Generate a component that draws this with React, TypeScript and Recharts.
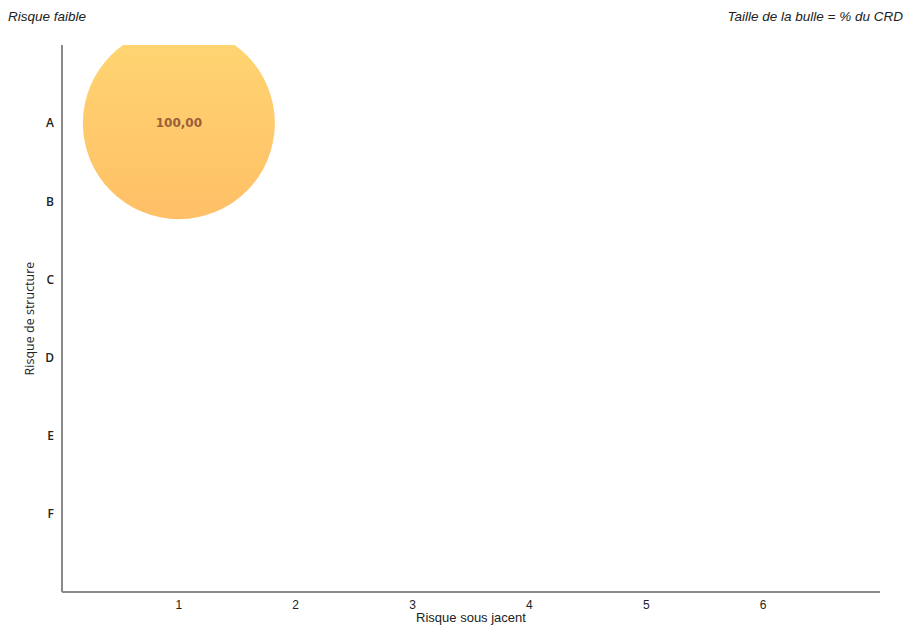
import React from "react";
import { ScatterChart, Scatter, XAxis, YAxis, ZAxis, LabelList } from "recharts";

const xTicks = [1, 2, 3, 4, 5, 6];
const yTicks = [1, 2, 3, 4, 5, 6];
const yTickLabels = ["A", "B", "C", "D", "E", "F"];
const bubbleX = [1];
const bubbleY = [1];
const bubbleShare = [100];

const data = bubbleX.map((x, i) => ({
  x,
  y: bubbleY[i],
  z: bubbleShare[i],
  label: bubbleShare[i].toFixed(2).replace(".", ","),
}));

const BubbleShape = (props: any) => {
  const { cx, cy, size } = props;
  const r = size ? Math.sqrt(size / Math.PI) : (props.width || 0) / 2;
  return (
    <g>
      <defs>
        <linearGradient id="bubbleGrad" x1="0" y1="0" x2="0" y2="1">
          <stop offset="0%" stopColor="#FFD672" />
          <stop offset="100%" stopColor="#FFBF66" />
        </linearGradient>
      </defs>
      <circle cx={cx} cy={cy} r={r} fill="url(#bubbleGrad)" />
    </g>
  );
};

export default function App() {
  return (
    <div style={{ position: "absolute", left: 0, top: 0, width: 905, height: 626, background: "#fff" }}>
      <div
        style={{
          position: "absolute",
          left: 8,
          top: 9,
          fontFamily: "Liberation Sans, Arial, sans-serif",
          fontStyle: "italic",
          fontSize: 13.5,
          color: "#222",
        }}
      >
        Risque faible
      </div>
      <div
        style={{
          position: "absolute",
          right: 2,
          top: 9,
          fontFamily: "Liberation Sans, Arial, sans-serif",
          fontStyle: "italic",
          fontSize: 13.5,
          color: "#222",
        }}
      >
        Taille de la bulle = % du CRD
      </div>
      <ScatterChart
        width={905}
        height={626}
        margin={{ top: 45, right: 25, bottom: 4, left: 32 }}
      >
        <XAxis
          type="number"
          dataKey="x"
          domain={[0, 7]}
          ticks={xTicks}
          allowDataOverflow
          tickLine={false}
          axisLine={{ stroke: "#8a8a8a", strokeWidth: 2 }}
          tick={{ fill: "#222", fontSize: 12, fontFamily: "Liberation Sans Narrow, Liberation Sans, sans-serif" }}
          height={30}
          label={{
            value: "Risque sous jacent",
            position: "insideBottom",
            offset: 0,
            fill: "#222",
            fontSize: 13,
            fontFamily: "Liberation Sans Narrow, Liberation Sans, sans-serif",
          }}
        />
        <YAxis
          type="number"
          dataKey="y"
          domain={[0, 7]}
          reversed
          ticks={yTicks}
          allowDataOverflow
          tickLine={false}
          axisLine={{ stroke: "#8a8a8a", strokeWidth: 2 }}
          tickFormatter={(v: number) => yTickLabels[v - 1] ?? ""}
          tick={{ fill: "#222", fontSize: 12, fontWeight: 600, fontFamily: "Open Sans, sans-serif" }}
          width={30}
          label={{
            value: "Risque de structure",
            angle: -90,
            position: "insideLeft",
            offset: -2,
            style: { textAnchor: "middle" },
            fill: "#222",
            fontSize: 12.5,
            fontFamily: "Open Sans, sans-serif",
          }}
        />
        <ZAxis type="number" dataKey="z" range={[28950, 28950]} />
        <Scatter data={data} shape={BubbleShape} isAnimationActive={false}>
          <LabelList
            dataKey="label"
            position="center"
            fill="#9A5E3A"
            fontSize={12}
            fontWeight={600}
            fontFamily="DejaVu Sans, sans-serif"
          />
        </Scatter>
      </ScatterChart>
    </div>
  );
}
